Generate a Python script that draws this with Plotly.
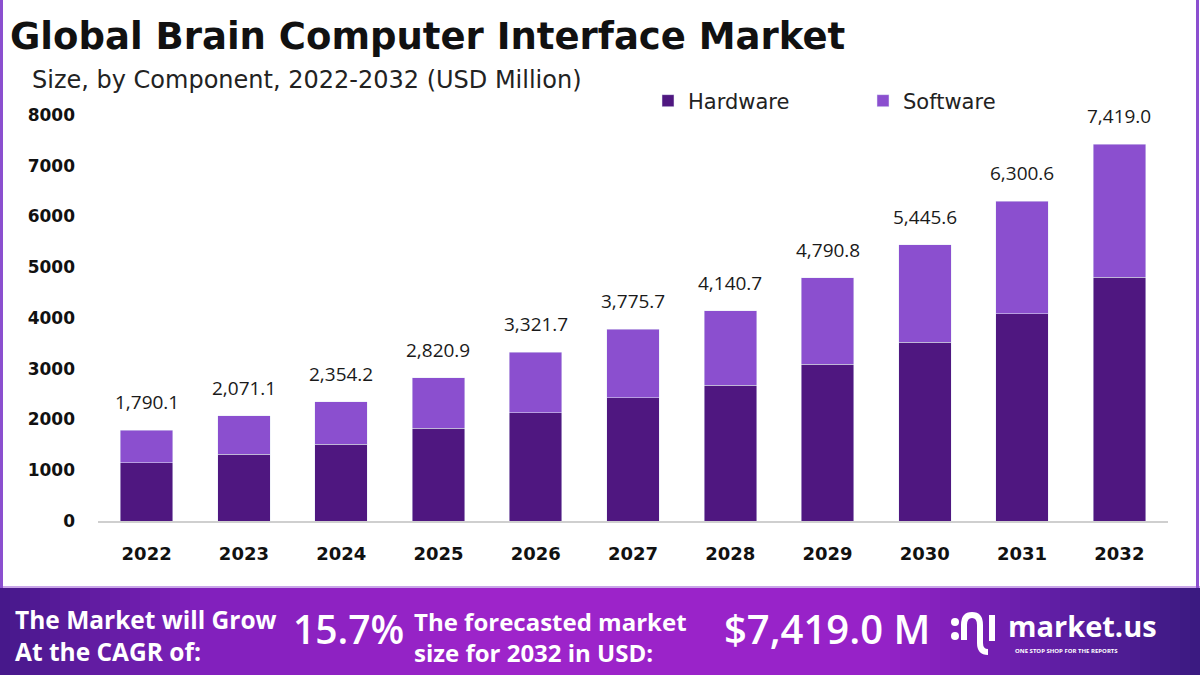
import plotly.graph_objects as go

# Data
years = ['2022', '2023', '2024', '2025', '2026', '2027', '2028', '2029', '2030', '2031', '2032']
hardware = [1150.0, 1320.0, 1517.0, 1826.0, 2134.0, 2431.0, 2673.0, 3087.0, 3520.0, 4086.0, 4801.0]
software = [640.1, 751.1, 837.2, 994.9, 1187.7, 1344.7, 1467.7, 1703.8, 1925.6, 2214.6, 2618.0]
totals = [1790.1, 2071.1, 2354.2, 2820.9, 3321.7, 3775.7, 4140.7, 4790.8, 5445.6, 6300.6, 7419.0]
y_ticks = [0, 1000, 2000, 3000, 4000, 5000, 6000, 7000, 8000]

W, H = 1200, 675
ML, MR, MT, MB = 98, 32, 115, 154
PW, PH = W - ML - MR, H - MT - MB

def px(x):
    return (x - ML) / PW

def py(y):
    return (H - MB - y) / PH

FONT = 'Open Sans'
WIDE = 'DejaVu Sans'
HW_COLOR = '#4f1780'
SW_COLOR = '#8b4fcf'

fig = go.Figure()
fig.add_trace(go.Bar(x=years, y=hardware, name='Hardware', marker_color=HW_COLOR, width=0.54))
fig.add_trace(go.Bar(x=years, y=software, name='Software', marker_color=SW_COLOR, width=0.54))

annotations = []
for i, tot in enumerate(totals):
    annotations.append(dict(x=i, y=tot, text=f'{tot:,.1f}', showarrow=False,
                            yanchor='bottom', yshift=13,
                            font=dict(family=FONT, size=19, color='#1a1a1a')))

# title and subtitle
annotations.append(dict(xref='paper', yref='paper', x=px(8), y=py(37), xanchor='left', yanchor='middle',
                        text='<b>Global Brain Computer Interface Market</b>', showarrow=False,
                        font=dict(family=WIDE, size=37, color='#111111')))
annotations.append(dict(xref='paper', yref='paper', x=px(30), y=py(80), xanchor='left', yanchor='middle',
                        text='Size, by Component, 2022-2032 (USD Million)', showarrow=False,
                        font=dict(family=WIDE, size=24, color='#222222')))

# bottom banner text
white = '#ffffff'
annotations.append(dict(xref='paper', yref='paper', x=px(13), y=py(635), xanchor='left', yanchor='middle',
                        text='<b>The Market will Grow<br>At the CAGR of:</b>', showarrow=False, align='left',
                        font=dict(family=FONT, size=24.5, color=white)))
annotations.append(dict(xref='paper', yref='paper', x=px(291), y=py(628), xanchor='left', yanchor='middle',
                        text='15.7%', showarrow=False,
                        font=dict(family=FONT, size=39, color=white, weight=600)))
annotations.append(dict(xref='paper', yref='paper', x=px(412), y=py(637), xanchor='left', yanchor='middle',
                        text='<b>The forecasted market<br>size for 2032 in USD:</b>', showarrow=False, align='left',
                        font=dict(family=FONT, size=24, color=white)))
annotations.append(dict(xref='paper', yref='paper', x=px(722), y=py(628), xanchor='left', yanchor='middle',
                        text='$7,419.0 M', showarrow=False,
                        font=dict(family=FONT, size=40, color=white, weight=600)))
annotations.append(dict(xref='paper', yref='paper', x=px(1006), y=py(625), xanchor='left', yanchor='middle',
                        text='<b>market.us</b>', showarrow=False,
                        font=dict(family=FONT, size=29, color=white)))
annotations.append(dict(xref='paper', yref='paper', x=px(1013), y=py(651), xanchor='left', yanchor='middle',
                        text='<b>ONE STOP SHOP FOR THE REPORTS</b>', showarrow=False,
                        font=dict(family=FONT, size=6, color=white)))

# banner gradient built from narrow stripes
stops = [(0, (70, 24, 138)), (200, (128, 32, 188)), (500, (158, 36, 202)),
         (880, (150, 34, 200)), (1040, (100, 30, 168)), (1200, (58, 26, 128))]

def grad(x):
    for (x0, c0), (x1, c1) in zip(stops[:-1], stops[1:]):
        if x0 <= x <= x1:
            t = (x - x0) / (x1 - x0)
            return 'rgb(%d,%d,%d)' % tuple(round(a + (b - a) * t) for a, b in zip(c0, c1))
    return 'rgb(%d,%d,%d)' % stops[-1][1]

shapes = []
step = 10
for x0 in range(0, W, step):
    shapes.append(dict(type='rect', xref='paper', yref='paper', layer='below',
                       x0=px(x0), x1=px(x0 + step + 1), y0=py(H), y1=py(588),
                       fillcolor=grad(x0 + step / 2), line=dict(width=0)))
# light line above banner and side borders
shapes.append(dict(type='line', xref='paper', yref='paper', x0=px(0), x1=px(W), y0=py(587), y1=py(587),
                   line=dict(color='#c9a6e8', width=2)))
shapes.append(dict(type='line', xref='paper', yref='paper', x0=px(1.5), x1=px(1.5), y0=py(0), y1=py(588),
                   line=dict(color='#8b4fcf', width=3)))
shapes.append(dict(type='line', xref='paper', yref='paper', x0=px(1197.5), x1=px(1197.5), y0=py(0), y1=py(588),
                   line=dict(color='#8b4fcf', width=3)))

# logo icon (rough)
logo = dict(color=white, width=6)
shapes.append(dict(type='circle', xref='paper', yref='paper', x0=px(951), x1=px(959), y0=py(626), y1=py(618),
                   fillcolor=white, line=dict(width=0)))
shapes.append(dict(type='circle', xref='paper', yref='paper', x0=px(951), x1=px(959), y0=py(640), y1=py(632),
                   fillcolor=white, line=dict(width=0)))
shapes.append(dict(type='path', xref='paper', yref='paper',
                   path=f'M {px(964)},{py(640)} L {px(964)},{py(625)} Q {px(964)},{py(615)} {px(972)},{py(615)} '
                        f'Q {px(980)},{py(615)} {px(980)},{py(625)} L {px(980)},{py(643)} '
                        f'Q {px(980)},{py(652)} {px(988)},{py(652)}',
                   line=logo))
shapes.append(dict(type='line', xref='paper', yref='paper', x0=px(992), x1=px(992), y0=py(615), y1=py(641),
                   line=logo))

fig.update_layout(
    width=W, height=H,
    margin=dict(l=ML, r=MR, t=MT, b=MB, autoexpand=False),
    barmode='stack',
    plot_bgcolor='white', paper_bgcolor='white',
    showlegend=True,
    legend=dict(orientation='h', x=px(648), y=py(101), xanchor='left', yanchor='middle',
                entrywidth=170, entrywidthmode='pixels', bgcolor='rgba(0,0,0,0)',
                font=dict(family=WIDE, size=21, color='#222222'), traceorder='normal'),
    xaxis=dict(type='category', range=[-0.5, 10.5], showgrid=False, showline=True,
               linecolor='#cfcfcf', linewidth=2, ticks='', ticklabelstandoff=15,
               tickfont=dict(family=WIDE, size=18, color='#111111', weight='bold')),
    yaxis=dict(range=[0, 8000], tickvals=y_ticks, ticktext=[str(v) for v in y_ticks],
               showgrid=False, zeroline=False, showline=False, ticks='', ticklabelstandoff=22,
               tickfont=dict(family=WIDE, size=17, color='#111111', weight='bold')),
    annotations=annotations,
    shapes=shapes,
)

fig.write_html('out.html', config={'displayModeBar': False},
               post_script="document.body.style.margin='0';")
